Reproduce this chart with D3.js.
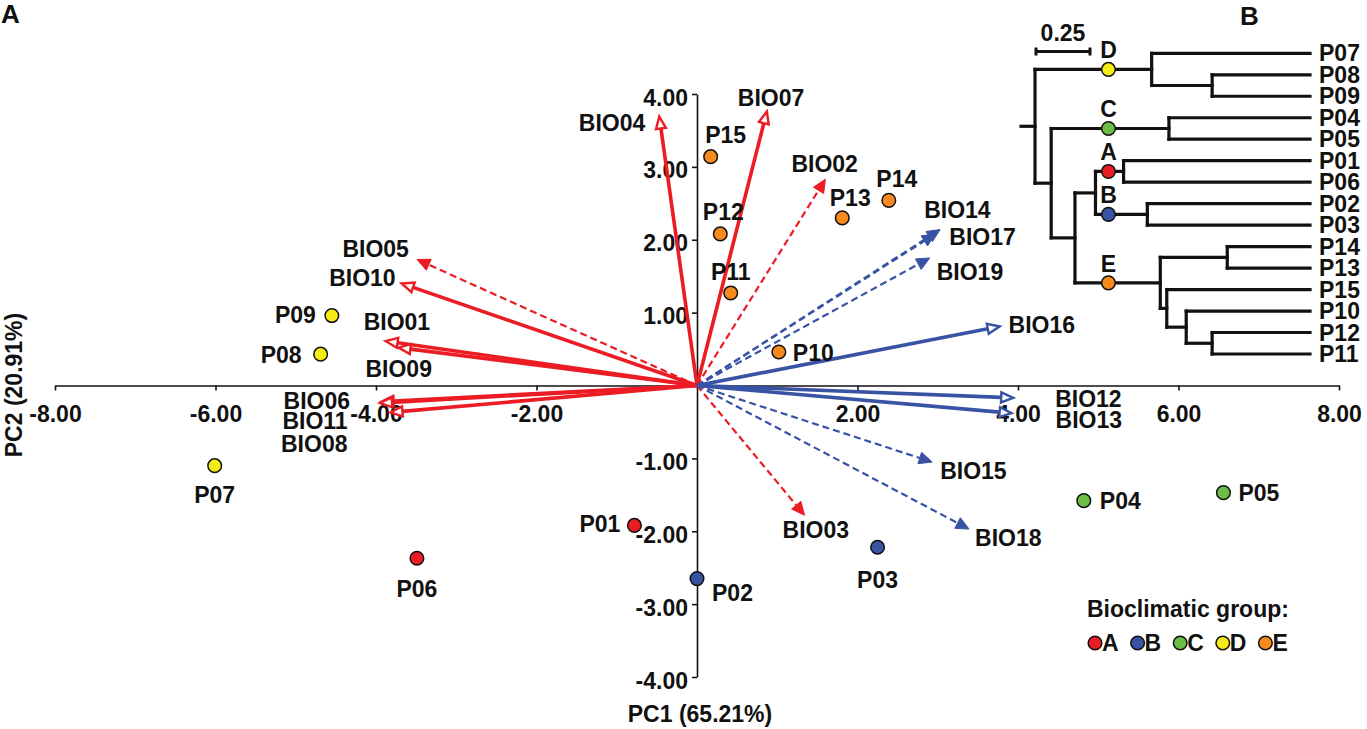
<!DOCTYPE html>
<html>
<head>
<meta charset="utf-8">
<script src="https://cdn.jsdelivr.net/npm/d3@7"></script>
<style>
  body { margin: 0; background: #fff; }
  text { font-family: "Liberation Sans", Arial, sans-serif; font-weight: bold; fill: #111; }
</style>
</head>
<body>
<svg id="chart" width="1367" height="729"></svg>
<script>
"use strict";

// Populations : scores sur PC1 / PC2 et groupe bioclimatique
var popNames = ["P01", "P02", "P03", "P04", "P05", "P06", "P07", "P08", "P09", "P10", "P11", "P12", "P13", "P14", "P15"];
var popPC1 = [-0.78, 0.00, 2.25, 4.82, 6.56, -3.49, -6.01, -4.69, -4.55, 1.02, 0.42, 0.29, 1.81, 2.39, 0.17];
var popPC2 = [-1.92, -2.65, -2.22, -1.58, -1.47, -2.37, -1.10, 0.43, 0.96, 0.46, 1.27, 2.08, 2.30, 2.54, 3.14];
var popGroup = ["A", "B", "B", "C", "C", "A", "D", "D", "D", "E", "E", "E", "E", "E", "E"];

// Variables bioclimatiques : charges sur PC1 / PC2
var bioNames = ["BIO01", "BIO02", "BIO03", "BIO04", "BIO05", "BIO06", "BIO07", "BIO08", "BIO09", "BIO10",
                "BIO11", "BIO12", "BIO13", "BIO14", "BIO15", "BIO16", "BIO17", "BIO18", "BIO19"];
var bioPC1 = [-3.88, 1.60, 1.34, -0.47, -3.49, -3.93, 0.87, -3.95, -3.72, -3.68,
              -3.82, 3.94, 3.92, 3.03, 2.93, 3.77, 2.97, 3.39, 2.90];
var bioPC2 = [0.61, 2.83, -1.78, 3.69, 1.73, -0.22, 3.76, -0.24, 0.52, 1.40,
              -0.37, -0.17, -0.38, 2.14, -1.05, 0.81, 2.08, -1.97, 1.75];
var bioKind = ["temp", "temp", "temp", "temp", "temp", "temp", "temp", "temp", "temp", "temp",
               "temp", "prec", "prec", "prec", "prec", "prec", "prec", "prec", "prec"];
var bioDashed = [false, true, true, false, true, false, false, false, false, false,
                 false, false, false, true, true, false, true, true, true];

var xTicks = [-8, -6, -4, -2, 2, 4, 6, 8];
var yTicks = [-4, -3, -2, -1, 1, 2, 3, 4];

var groupNames = ["A", "B", "C", "D", "E"];
var groupColors = {A: "#ec1c24", B: "#3953a4", C: "#6cbd45", D: "#f6eb14", E: "#f68a1f"};
var kindColors = {temp: "#ec1c24", prec: "#3953a4"};

// Dendrogramme (UPGMA) : noeud, parent, hauteur depuis la racine (ordre de lecture de haut en bas)
var treeIds = ["root",
  "nD", "P07", "nD2", "P08", "P09",
  "n1", "nC", "P04", "P05",
  "nABE", "nAB", "nA", "P01", "P06", "nB", "P02", "P03",
  "nE", "nE1", "P14", "P13", "nE2", "P15", "nE3", "P10", "nE4", "P12", "P11"];
var treeParents = ["",
  "root", "nD", "nD", "nD2", "nD2",
  "root", "n1", "nC", "nC",
  "n1", "nABE", "nAB", "nA", "nA", "nAB", "nB", "nB",
  "nABE", "nE", "nE1", "nE1", "nE", "nE2", "nE2", "nE3", "nE3", "nE4", "nE4"];
var treeHeights = [0,
  0.54, 1.273, 0.82, 1.273, 1.273,
  0.075, 0.62, 1.273, 1.273,
  0.185, 0.28, 0.41, 1.273, 1.273, 0.52, 1.273, 1.273,
  0.58, 0.89, 1.273, 1.273, 0.61, 1.273, 0.70, 1.273, 0.82, 1.273, 1.273];
var treeGroups = {nD: "D", nC: "C", nA: "A", nB: "B", nE: "E"};
var groupMarkHeight = 0.34;
var scaleBarValue = 0.25;

// Décalages des étiquettes (px) par rapport au point / à la pointe de flèche
var popLabel = {
  P01: [-14, 7, "end"], P02: [15, 22, "start"], P03: [0, 41, "middle"], P04: [16, 8, "start"],
  P05: [15, 8, "start"], P06: [0, 39, "middle"], P07: [0, 37, "middle"], P08: [-19, 9, "end"],
  P09: [-16, 7, "end"], P10: [14, 9, "start"], P11: [0, -13, "middle"], P12: [3, -14, "middle"],
  P13: [8, -12, "middle"], P14: [8, -13, "middle"], P15: [15, -14, "middle"]
};
var bioLabel = {
  BIO01: [-22, -11, "start"], BIO02: [-34, -7, "start"], BIO03: [-22, 23, "start"], BIO04: [-14, 14, "end"],
  BIO05: [-8, -2, "end"], BIO06: [-98, 7, "start"], BIO07: [-29, -5, "start"], BIO08: [-99, 49, "start"],
  BIO09: [-33, 29, "start"], BIO10: [-6, 3, "end"], BIO11: [-108, 17, "start"], BIO12: [42, 9, "start"],
  BIO13: [44, 15, "start"], BIO14: [-16, -12, "start"], BIO15: [8, 17, "start"], BIO16: [9, 7, "start"],
  BIO17: [14, 11, "start"], BIO18: [6, 17, "start"], BIO19: [7, 22, "start"]
};

var svg = d3.select("#chart");
var fontSize = "23px";

/* ---------- Panneau A : biplot ACP ---------- */
var x = d3.scaleLinear().domain([-8, 8]).range([55, 1339]);
var y = d3.scaleLinear().domain([-4, 4]).range([677, 94]);

var xAxis = svg.append("g")
  .attr("transform", "translate(0," + y(0) + ")")
  .call(d3.axisBottom(x).tickValues(xTicks).tickSize(5).tickSizeOuter(0).tickPadding(15)
    .tickFormat(function (d) { return d.toFixed(2); }));
var yAxis = svg.append("g")
  .attr("transform", "translate(" + x(0) + ",0)")
  .call(d3.axisLeft(y).tickValues(yTicks).tickSize(5).tickSizeOuter(0).tickPadding(4)
    .tickFormat(function (d) { return d.toFixed(2); }));

[xAxis, yAxis].forEach(function (ax) {
  ax.select(".domain").attr("stroke", "#111").attr("stroke-width", 1.6);
  ax.selectAll(".tick line").attr("stroke", "#111").attr("stroke-width", 1.6);
  ax.selectAll(".tick text").style("font-size", fontSize).attr("fill", "#111");
});
yAxis.selectAll(".tick text").attr("dy", "0.48em");

svg.append("text")
  .attr("x", 700).attr("y", 722)
  .attr("text-anchor", "middle")
  .style("font-size", fontSize)
  .text("PC1 (65.21%)");
svg.append("text")
  .attr("transform", "translate(22,385) rotate(-90)")
  .attr("text-anchor", "middle")
  .style("font-size", fontSize)
  .text("PC2 (20.91%)");

// Flèches des variables
var bios = bioNames.map(function (name, i) {
  return {name: name, x: bioPC1[i], y: bioPC2[i], kind: bioKind[i], dashed: bioDashed[i]};
});
var arrows = svg.append("g").attr("class", "arrows");
var line = d3.line();

bios.forEach(function (b) {
  var ox = x(0), oy = y(0), tx = x(b.x), ty = y(b.y);
  var len = Math.hypot(tx - ox, ty - oy);
  var ux = (tx - ox) / len, uy = (ty - oy) / len;
  var hl = b.dashed ? 13 : 12, hw = b.dashed ? 6 : 5;
  var bx = tx - ux * hl, by = ty - uy * hl;
  var col = kindColors[b.kind];

  arrows.append("path")
    .attr("d", line([[ox, oy], [bx, by]]))
    .attr("stroke", col)
    .attr("stroke-width", b.dashed ? 2.2 : 3.6)
    .attr("stroke-dasharray", b.dashed ? "7,4" : null)
    .attr("fill", "none");

  arrows.append("path")
    .attr("d", line([[tx, ty], [bx - uy * hw, by + ux * hw], [bx + uy * hw, by - ux * hw]]) + "Z")
    .attr("fill", b.dashed ? col : "#fff")
    .attr("stroke", col)
    .attr("stroke-width", b.dashed ? 1 : 2.4)
    .attr("stroke-linejoin", "miter");
});

arrows.selectAll("text")
  .data(bios)
  .enter()
  .append("text")
  .attr("x", function (d) { return x(d.x) + bioLabel[d.name][0]; })
  .attr("y", function (d) { return y(d.y) + bioLabel[d.name][1]; })
  .attr("text-anchor", function (d) { return bioLabel[d.name][2]; })
  .style("font-size", fontSize)
  .text(function (d) { return d.name; });

// Points des populations
var pops = popNames.map(function (name, i) {
  return {name: name, x: popPC1[i], y: popPC2[i], group: popGroup[i]};
});
var points = svg.append("g").attr("class", "points");
points.selectAll("circle")
  .data(pops)
  .enter()
  .append("circle")
  .attr("cx", function (d) { return x(d.x); })
  .attr("cy", function (d) { return y(d.y); })
  .attr("r", 6.8)
  .attr("fill", function (d) { return groupColors[d.group]; })
  .attr("stroke", "#111")
  .attr("stroke-width", 1.5);
points.selectAll("text")
  .data(pops)
  .enter()
  .append("text")
  .attr("x", function (d) { return x(d.x) + popLabel[d.name][0]; })
  .attr("y", function (d) { return y(d.y) + popLabel[d.name][1]; })
  .attr("text-anchor", function (d) { return popLabel[d.name][2]; })
  .style("font-size", fontSize)
  .text(function (d) { return d.name; });

// Légende
var legend = svg.append("g").attr("class", "legend");
legend.append("text")
  .attr("x", 1087).attr("y", 617)
  .style("font-size", fontSize)
  .text("Bioclimatic group:");
var item = legend.selectAll("g.item")
  .data(groupNames)
  .enter()
  .append("g")
  .attr("class", "item")
  .attr("transform", function (d, i) { return "translate(" + (1095 + i * 42.6) + ",643)"; });
item.append("circle")
  .attr("r", 6.8)
  .attr("fill", function (d) { return groupColors[d]; })
  .attr("stroke", "#111")
  .attr("stroke-width", 1.5);
item.append("text")
  .attr("x", 7).attr("y", 8)
  .style("font-size", fontSize)
  .text(function (d) { return d; });

/* ---------- Panneau B : dendrogramme ---------- */
var rows = treeIds.map(function (id, i) {
  return {id: id, parent: treeParents[i], h: treeHeights[i]};
});
var root = d3.stratify()
  .id(function (d) { return d.id; })
  .parentId(function (d) { return d.parent || null; })(rows);

var leafOrder = root.leaves().map(function (d) { return d.id; });
var tx = d3.scaleLinear().domain([0, 1.273]).range([1035, 1310]);
var ty = d3.scalePoint().domain(leafOrder).range([53.3, 354]);

root.eachAfter(function (n) {
  if (!n.children) {
    n.py = ty(n.id);
  } else {
    n.py = (n.children[0].py + n.children[n.children.length - 1].py) / 2;
  }
  n.px = tx(n.data.h);
});

var tree = svg.append("g").attr("class", "tree")
  .attr("fill", "none").attr("stroke", "#111").attr("stroke-width", 3.2)
  .attr("stroke-linecap", "square");

root.each(function (n) {
  if (n.children) {
    var first = n.children[0], last = n.children[n.children.length - 1];
    tree.append("path").attr("d", line([[n.px, first.py], [n.px, last.py]]));
  }
  if (n.parent) {
    tree.append("path").attr("d", line([[n.parent.px, n.py], [n.px, n.py]]));
  }
});
tree.append("path").attr("d", line([[root.px - 14, root.py], [root.px, root.py]]));

svg.append("g").selectAll("text")
  .data(root.leaves())
  .enter()
  .append("text")
  .attr("x", function (d) { return d.px + 9; })
  .attr("y", function (d) { return d.py + 8; })
  .style("font-size", fontSize)
  .text(function (d) { return d.id; });

var marks = root.descendants().filter(function (n) { return treeGroups[n.id]; });
var gm = svg.append("g").selectAll("g")
  .data(marks)
  .enter()
  .append("g")
  .attr("transform", function (d) { return "translate(" + tx(groupMarkHeight) + "," + d.py + ")"; });
gm.append("circle")
  .attr("r", 6.8)
  .attr("fill", function (d) { return groupColors[treeGroups[d.id]]; })
  .attr("stroke", "#111")
  .attr("stroke-width", 1.5);
gm.append("text")
  .attr("y", -11)
  .attr("text-anchor", "middle")
  .style("font-size", fontSize)
  .text(function (d) { return treeGroups[d.id]; });

// Barre d'échelle
var sb = svg.append("g").attr("stroke", "#111").attr("stroke-width", 3).attr("fill", "none");
var sbx0 = tx(0) + 1, sbx1 = sbx0 + (tx(scaleBarValue) - tx(0)), sby = 51.5;
sb.append("path").attr("d", line([[sbx0, sby], [sbx1, sby]]));
sb.append("path").attr("d", line([[sbx0, sby - 4], [sbx0, sby + 4]]));
sb.append("path").attr("d", line([[sbx1, sby - 4], [sbx1, sby + 4]]));
svg.append("text")
  .attr("x", (sbx0 + sbx1) / 2).attr("y", 41)
  .attr("text-anchor", "middle")
  .style("font-size", fontSize)
  .text(scaleBarValue.toFixed(2));

// Lettres des panneaux
svg.append("text").attr("x", 1).attr("y", 23).style("font-size", "26px").text("A");
svg.append("text").attr("x", 1240).attr("y", 25).style("font-size", "26px").text("B");
</script>
</body>
</html>
